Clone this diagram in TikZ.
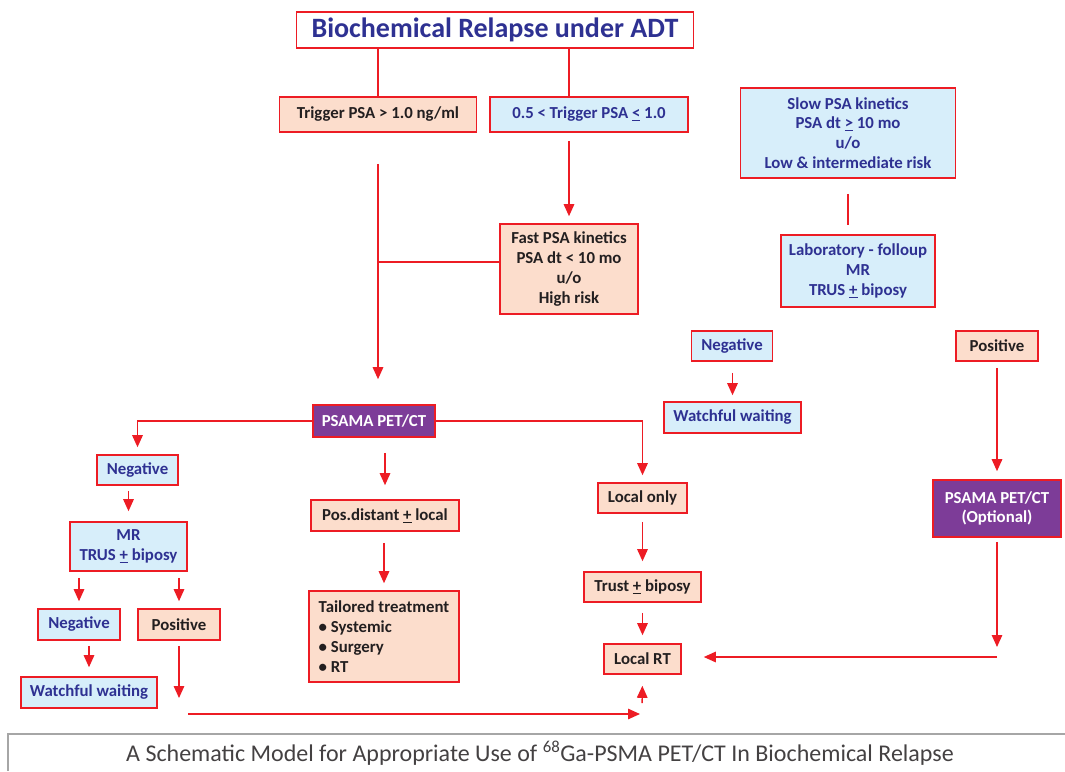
\documentclass[tikz,border=0pt]{standalone}
\usepackage{fontspec}
\setmainfont{Carlito}
\usetikzlibrary{arrows.meta}
\definecolor{redline}{HTML}{ED1C24}
\definecolor{salmon}{HTML}{FCDDCC}
\definecolor{skyfill}{HTML}{D7EEFA}
\definecolor{navy}{HTML}{2E3192}
\definecolor{plum}{HTML}{7D3C98}
\definecolor{ink}{HTML}{231F20}

\begin{document}
\begin{tikzpicture}[x=1pt,y=-1pt,
    box/.style={draw=redline,line width=1.6pt,align=center,inner sep=0pt,
      font=\bfseries\fontsize{16.8}{19.8}\selectfont},
    pinkbox/.style={box,fill=salmon,text=ink},
    bluebox/.style={box,fill=skyfill,text=navy},
    petbox/.style={box,fill=plum,text=white},
    link/.style={redline,line width=1.4pt},
    arrow/.style={link,-{Triangle[length=12pt,width=10.5pt]}}]
  \useasboundingbox (0,0) rectangle (1065,771);

  % top of the chart
  \node[box,fill=white,text=navy,font=\bfseries\fontsize{28}{32}\selectfont,
    minimum width=397pt,minimum height=36pt] (title) at (495,30) {Biochemical Relapse under ADT};
  \node[pinkbox,minimum width=197pt,minimum height=35pt] (trig1) at (378,114.5) {Trigger PSA > 1.0 ng/ml};
  \node[bluebox,minimum width=198pt,minimum height=35pt] (trig2) at (589,114.5) {0.5 < Trigger PSA \underline{<} 1.0};
  \node[pinkbox,minimum width=138pt,minimum height=90pt] (fast) at (569,269)
    {Fast PSA kinetics\\PSA dt < 10 mo\\u/o\\High risk};
  \node[bluebox,minimum width=215pt,minimum height=90pt] (slow) at (848,133)
    {Slow PSA kinetics\\PSA dt \underline{>} 10 mo\\u/o\\Low \& intermediate risk};
  \node[bluebox,minimum width=154pt,minimum height=72pt] (lab) at (858,271)
    {Laboratory - folloup\\MR\\TRUS \underline{+} biposy};

  % right branch
  \node[bluebox,minimum width=81pt,minimum height=30pt] (neg2) at (732,346) {Negative};
  \node[pinkbox,minimum width=82pt,minimum height=30pt] (pos2) at (997,346) {Positive};
  \node[bluebox,minimum width=137pt,minimum height=31pt] (ww2) at (732.5,417.5) {Watchful waiting};
  \node[petbox,minimum width=128pt,minimum height=57pt] (opt) at (997,508.5) {PSAMA PET/CT\\(Optional)};

  % PET and what follows
  \node[petbox,minimum width=122pt,minimum height=32pt] (psama) at (374,421) {PSAMA PET/CT};
  \node[bluebox,minimum width=81pt,minimum height=30pt] (neg1) at (137.5,470) {Negative};
  \node[bluebox,minimum width=117pt,minimum height=49pt] (mr) at (128.5,546.5) {MR\\TRUS \underline{+} biposy};
  \node[bluebox,minimum width=82pt,minimum height=31pt] (negs) at (79,624.5) {Negative};
  \node[pinkbox,minimum width=82pt,minimum height=31pt] (poss) at (179,624.5) {Positive};
  \node[bluebox,minimum width=136pt,minimum height=31pt] (ww1) at (89,692.5) {Watchful waiting};
  \node[pinkbox,minimum width=148pt,minimum height=31pt] (posd) at (385,515.5) {Pos.distant \underline{+} local};
  \node[pinkbox,align=left,minimum width=150pt,minimum height=91pt] (tail) at (384,636.5)
    {Tailored treatment\\• Systemic\\• Surgery\\• RT};
  \node[pinkbox,minimum width=89pt,minimum height=30pt] (local) at (642.5,498) {Local only};
  \node[pinkbox,minimum width=117pt,minimum height=30pt] (trust) at (642.5,587) {Trust \underline{+} biposy};
  \node[pinkbox,minimum width=77pt,minimum height=30pt] (lrt) at (642.5,659) {Local RT};

  \coordinate (jn) at (378,262);
  \coordinate (optend) at (997,657);
  \coordinate (base) at (188,714);
  \coordinate (rtfoot) at (642,714);

  % straight arrows: from / to / gap at start / gap at end
  \def \Arrows {
    trig2/fast/8/7,
    neg2/ww2/11/6,
    pos2/opt/6/8,
    psama/posd/15/14,
    posd/tail/11/7,
    local/trust/8/10,
    trust/lrt/10/8,
    neg1/mr/5/10,
    mr/negs/6/7,
    mr/poss/6/7,
    negs/ww1/5/9}
  \foreach \a / \b / \s / \e in \Arrows {
    \draw[arrow,shorten <=\s pt,shorten >=\e pt] (\b.north |- \a.south) -- (\b.north);
  }

  \draw[link] (title.south -| trig1) -- (trig1.north);
  \draw[link] (fast |- title.south) -- (fast |- trig2.north);
  \draw[arrow,shorten <=31pt,shorten >=25pt] (trig1.south) -- (trig1.south |- psama.north);
  \draw[link] (jn) -- (jn -| fast.west);
  \draw[link,shorten <=15pt,shorten >=9pt] (slow.south) -- (slow.south |- lab.north);
  \draw[arrow,shorten >=7pt] (psama.west) -| (neg1.north);
  \draw[arrow,shorten >=7pt] (psama.east) -| (local.north);
  \draw[arrow,shorten <=4pt,shorten >=10pt] (opt.south) -- (opt.south |- optend);
  \draw[arrow,shorten >=22pt] (optend) -- (optend -| lrt.east);
  \draw[arrow,shorten <=5pt,shorten >=16pt] (poss.south) -- (poss.south |- base);
  \draw[arrow,shorten >=2pt] (base) -- (rtfoot);
  \draw[arrow,shorten <=11pt,shorten >=11pt] (rtfoot) -- (lrt.south);

  % caption
  \draw[gray!70,line width=2.5pt] (8,771) |- (1065,734);
  \node[font=\fontsize{24}{28}\selectfont,text=ink!85] (caption) at (540,753)
    {A Schematic Model for Appropriate Use of \textsuperscript{68}Ga-PSMA PET/CT In Biochemical Relapse};
\end{tikzpicture}
\end{document}
